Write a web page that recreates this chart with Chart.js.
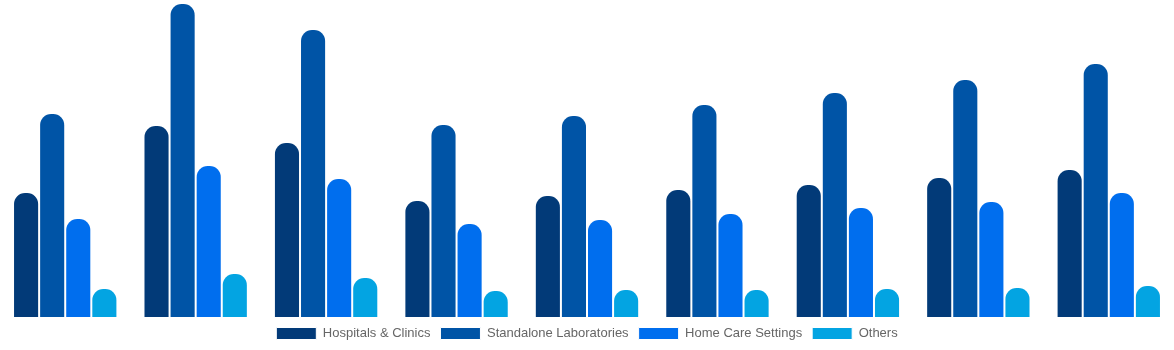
<!DOCTYPE html>
<html>
<head>
<meta charset="utf-8">
<script src="https://cdn.jsdelivr.net/npm/chart.js@4"></script>
<style>
  html, body { margin: 0; padding: 0; background: #fff; }
  #wrap { width: 1174px; height: 350px; }
</style>
</head>
<body>
<div id="wrap"><canvas id="bars"></canvas></div>
<script>
// categories and series
const labels = ["2023", "2024", "2025", "2026", "2027", "2028", "2029", "2030", "2031"];
const hospitals = [12.5, 19.2, 17.5, 11.7, 12.2, 12.8, 13.3, 14.0, 14.8];
const laboratories = [20.4, 31.4, 28.8, 19.3, 20.2, 21.3, 22.5, 23.8, 25.4];
const homeCare = [9.9, 15.2, 13.9, 9.4, 9.8, 10.4, 11.0, 11.6, 12.5];
const others = [2.9, 4.4, 4.0, 2.7, 2.8, 2.8, 2.9, 3.0, 3.2];

const ctx = document.getElementById("bars").getContext("2d");

function series(label, data, color) {
  return {
    label: label,
    data: data,
    backgroundColor: color,
    borderColor: "#fff",
    borderWidth: 1,
    borderSkipped: "bottom",
    borderRadius: { topLeft: 12, topRight: 12 },
    categoryPercentage: 0.8,
    barPercentage: 1.0,
  };
}

new Chart(ctx, {
  type: "bar",
  data: {
    labels: labels,
    datasets: [
      series("Hospitals & Clinics", hospitals, "#023a78"),
      series("Standalone Laboratories", laboratories, "#0054a6"),
      series("Home Care Settings", homeCare, "#006eee"),
      series("Others", others, "#03a4e2"),
    ],
  },
  options: {
    responsive: true,
    maintainAspectRatio: false,
    animation: false,
    layout: { padding: 0 },
    scales: {
      x: { display: false },
      y: { display: false, min: 0, max: 31.7 },
    },
    plugins: {
      tooltip: { enabled: false },
      legend: {
        position: "bottom",
        labels: {
          boxWidth: 40,
          boxHeight: 12,
          padding: 10,
          color: "#666",
          font: { family: "'Liberation Sans', Arial, sans-serif", size: 13 },
        },
      },
    },
  },
});
</script>
</body>
</html>
